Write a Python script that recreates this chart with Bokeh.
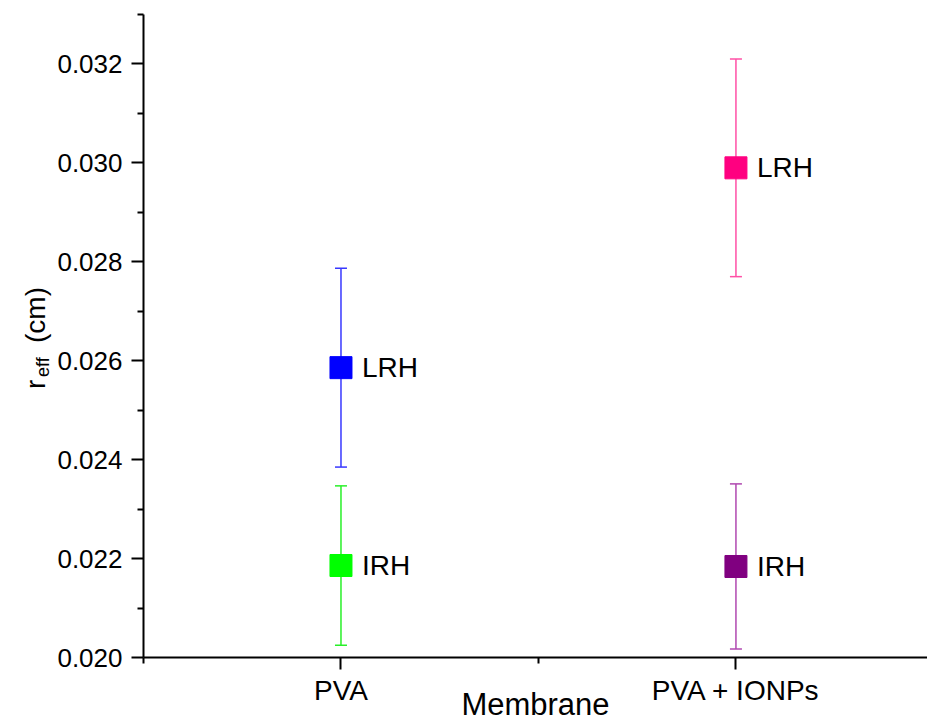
from math import pi
from bokeh.plotting import figure
from bokeh.layouts import row
from bokeh.models import ColumnDataSource, Whisker, TeeHead, FixedTicker, Range1d
from bokeh.core.properties import value
from bokeh.embed import file_html
from bokeh.resources import INLINE

# ---- data ----
categories = ["PVA", "PVA + IONPs"]
cat_pos = [1, 2]
series_names = ["LRH", "IRH"]
lrh_mean = [0.02586, 0.02990]
lrh_err = [0.00201, 0.00220]
irh_mean = [0.02186, 0.02184]
irh_err = [0.00161, 0.00167]
lrh_colors = ["#0000FF", "#FF0080"]
irh_colors = ["#00FF00", "#800080"]
lrh_bar_colors = ["#3838FF", "#FF50A6"]
irh_bar_colors = ["#28F028", "#B048B0"]
y_ticks = [0.020, 0.022, 0.024, 0.026, 0.028, 0.030, 0.032]
y_tick_labels = ["0.020", "0.022", "0.024", "0.026", "0.028", "0.030", "0.032"]
y_minor = [0.021, 0.023, 0.025, 0.027, 0.029, 0.031, 0.033]
x_minor = [0.5, 1.5, 2.5]
x_title = "Membrane"
y_title_parts = ["r", "eff", "(cm)"]

FONT = "Liberation Sans"
TOP, BOTTOM = 14, 66
LEFT_W = 52          # width of the strip that carries the y title
MAIN_LEFT = 143 - LEFT_W

# ---- narrow figure that carries the rotated y title ----
# its frame lines up with the main frame (pixel rows 14..658), so data y == pixel y
t = figure(width=LEFT_W, height=724, x_range=Range1d(0, LEFT_W),
           y_range=Range1d(724 - BOTTOM, TOP),
           output_backend="svg", toolbar_location=None,
           x_axis_location=None, y_axis_location=None,
           min_border_left=0, min_border_right=0,
           min_border_top=TOP, min_border_bottom=BOTTOM)
t.outline_line_color = None
t.grid.visible = False
t.background_fill_color = "white"
t.border_fill_color = "white"
t.text(x=[35], y=[389], text=[y_title_parts[0]], angle=pi / 2,
       text_align="left", text_baseline="alphabetic",
       text_font=value(FONT), text_font_size="28px", text_color="black")
t.text(x=[42], y=[377], text=[y_title_parts[1]], angle=pi / 2,
       text_align="left", text_baseline="alphabetic",
       text_font=value(FONT), text_font_size="18px", text_color="black")
t.text(x=[35], y=[343], text=[y_title_parts[2]], angle=pi / 2,
       text_align="left", text_baseline="alphabetic",
       text_font=value(FONT), text_font_size="28px", text_color="black")

# ---- main chart ----
p = figure(width=927 - LEFT_W, height=724,
           x_range=Range1d(0.5, 2.485), y_range=Range1d(0.020, 0.033),
           output_backend="svg", toolbar_location=None,
           min_border_left=MAIN_LEFT, min_border_right=0,
           min_border_top=TOP, min_border_bottom=BOTTOM)
p.outline_line_color = None
p.xgrid.visible = False
p.ygrid.visible = False
p.background_fill_color = "white"
p.border_fill_color = "white"

for ax in (p.xaxis[0], p.yaxis[0]):
    ax.axis_line_width = 2
    ax.axis_line_color = "black"
    ax.major_tick_line_width = 2
    ax.minor_tick_line_width = 2
    ax.major_tick_line_color = "black"
    ax.minor_tick_line_color = "black"
    ax.major_tick_out = 12
    ax.major_tick_in = 0
    ax.minor_tick_out = 6
    ax.minor_tick_in = 0
    ax.major_label_text_font = FONT
    ax.major_label_text_color = "black"
    ax.major_label_text_font_style = "normal"

p.xaxis.ticker = FixedTicker(ticks=cat_pos, minor_ticks=x_minor)
p.xaxis.major_label_overrides = {k: v for k, v in zip(cat_pos, categories)}
p.xaxis.major_label_text_font_size = "28px"
p.xaxis.major_label_standoff = 5
p.xaxis.axis_label = x_title
p.xaxis.axis_label_text_font = FONT
p.xaxis.axis_label_text_font_size = "31px"
p.xaxis.axis_label_text_font_style = "normal"
p.xaxis.axis_label_text_color = "black"
p.xaxis.axis_label_standoff = -22

p.yaxis.ticker = FixedTicker(ticks=y_ticks, minor_ticks=y_minor)
p.yaxis.major_label_overrides = {k: v for k, v in zip(y_ticks, y_tick_labels)}
p.yaxis.major_label_text_font_size = "26px"
p.yaxis.major_label_standoff = 9

# ---- error bars, markers and labels ----
groups = [
    ("LRH", lrh_mean, lrh_err, lrh_colors, lrh_bar_colors),
    ("IRH", irh_mean, irh_err, irh_colors, irh_bar_colors),
]
for name, means, errs, cols, bcols in groups:
    for i in range(len(cat_pos)):
        src = ColumnDataSource(dict(base=[cat_pos[i]],
                                    upper=[means[i] + errs[i]],
                                    lower=[means[i] - errs[i]]))
        w = Whisker(base="base", upper="upper", lower="lower", source=src,
                    line_color=bcols[i], line_width=1.5,
                    upper_head=TeeHead(size=12, line_color=bcols[i], line_width=1.5),
                    lower_head=TeeHead(size=12, line_color=bcols[i], line_width=1.5))
        p.add_layout(w)
    src = ColumnDataSource(dict(x=cat_pos, y=means, c=cols, t=[name] * len(cat_pos)))
    p.scatter("x", "y", source=src, marker="square", size=22,
              fill_color="c", line_color="c")
    p.text("x", "y", text="t", source=src, x_offset=21,
           text_baseline="middle", text_align="left",
           text_font=value(FONT), text_font_size="28px", text_color="black")

layout = row(t, p, spacing=0)
open("out.html", "w").write(file_html(layout, INLINE))
